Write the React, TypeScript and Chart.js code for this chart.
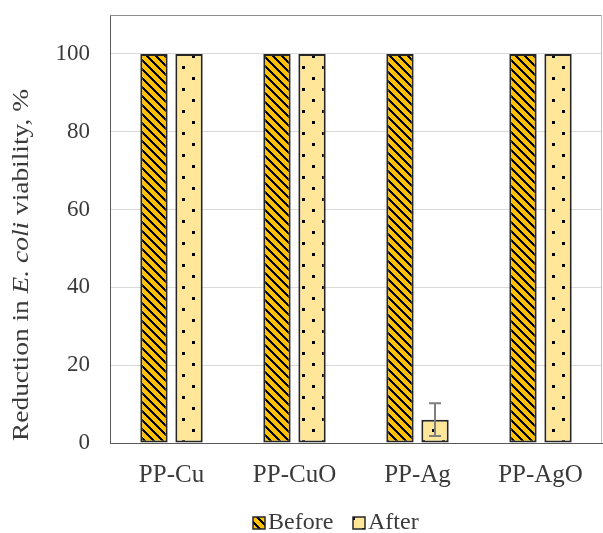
import React, { useEffect, useRef } from "react";
import { Chart, registerables } from "chart.js";

Chart.register(...registerables);

const categories = ["PP-Cu", "PP-CuO", "PP-Ag", "PP-AgO"];
const seriesNames = ["Before", "After"];
const beforeValues = [100, 100, 100, 100];
const afterValues = [100, 100, 6, 100];
const beforeErrors = [0, 0, 0, 0];
const afterErrors = [0, 0, 4.2, 0];
const yTickValues = [0, 20, 40, 60, 80, 100];
const yTitleParts = [
  { text: "Reduction in ", italic: false },
  { text: "E. coli", italic: true },
  { text: " viability, %", italic: false },
];

const FONT = "'Liberation Serif', 'DejaVu Serif', serif";
const TEXT_COLOR = "#3a3a3a";

function makeStripePattern(ctx: CanvasRenderingContext2D) {
  const n = 9;
  const c = document.createElement("canvas");
  c.width = n;
  c.height = n;
  const g = c.getContext("2d")!;
  g.fillStyle = "#FFC000";
  g.fillRect(0, 0, n, n);
  g.fillStyle = "#000000";
  for (let y = 0; y < n; y++) {
    for (let k = 0; k < 3; k++) {
      const x = (y + k) % n;
      g.fillRect(x, y, 1, 1);
    }
  }
  return ctx.createPattern(c, "repeat")!;
}

function makeDotPattern(ctx: CanvasRenderingContext2D) {
  const c = document.createElement("canvas");
  c.width = 20;
  c.height = 22;
  const g = c.getContext("2d")!;
  g.fillStyle = "#FFE699";
  g.fillRect(0, 0, 20, 22);
  g.fillStyle = "#000000";
  g.fillRect(2, 0, 3, 3);
  g.fillRect(12, 11, 3, 3);
  return ctx.createPattern(c, "repeat")!;
}

export default function App() {
  const ref = useRef<HTMLCanvasElement | null>(null);

  useEffect(() => {
    const canvas = ref.current!;
    const ctx = canvas.getContext("2d")!;
    const stripe = makeStripePattern(ctx);
    const dots = makeDotPattern(ctx);
    const fills = [stripe, dots];
    const errors = [beforeErrors, afterErrors];

    const framePlugin = {
      id: "frame",
      beforeDatasetsDraw(chart: any) {
        const { ctx: c, chartArea: a } = chart;
        c.save();
        c.lineWidth = 1;
        c.strokeStyle = "#8c8c8c";
        c.beginPath();
        c.moveTo(a.left, a.top + 0.5);
        c.lineTo(a.right, a.top + 0.5);
        c.stroke();
        c.strokeStyle = "#bfbfbf";
        c.beginPath();
        c.moveTo(a.right - 0.5, a.top);
        c.lineTo(a.right - 0.5, a.bottom);
        c.stroke();
        c.restore();
      },
    };

    const errorPlugin = {
      id: "errbars",
      afterDatasetsDraw(chart: any) {
        const c = chart.ctx;
        const ys = chart.scales.y;
        chart.data.datasets.forEach((ds: any, di: number) => {
          const meta = chart.getDatasetMeta(di);
          meta.data.forEach((bar: any, i: number) => {
            const e = errors[di][i];
            if (!e) return;
            const v = ds.data[i];
            const yTop = ys.getPixelForValue(v + e);
            const yBot = ys.getPixelForValue(v - e);
            const x = Math.round(bar.x);
            c.save();
            c.strokeStyle = "#7f7f7f";
            c.lineWidth = 2;
            c.beginPath();
            c.moveTo(x, yTop);
            c.lineTo(x, yBot);
            c.moveTo(x - 6, yTop);
            c.lineTo(x + 6, yTop);
            c.moveTo(x - 6, yBot);
            c.lineTo(x + 6, yBot);
            c.stroke();
            c.restore();
          });
        });
      },
    };

    const textPlugin = {
      id: "texts",
      afterDraw(chart: any) {
        const c = chart.ctx;
        c.save();
        c.fillStyle = TEXT_COLOR;
        c.textBaseline = "middle";
        c.textAlign = "left";
        const fs = 23;
        const fontFor = (it: boolean) => `${it ? "italic " : ""}${fs}px ${FONT}`;
        let total = 0;
        const widths = yTitleParts.map((p) => {
          c.font = fontFor(p.italic);
          const w = c.measureText(p.text).width;
          total += w;
          return w;
        });
        const targetLen = 352;
        const sx = targetLen / total;
        c.translate(22, 265);
        c.rotate(-Math.PI / 2);
        c.scale(sx, 1);
        let x = -total / 2;
        yTitleParts.forEach((p, i) => {
          c.font = fontFor(p.italic);
          c.fillText(p.text, x, 0);
          x += widths[i];
        });
        c.restore();

        c.save();
        c.font = `24px ${FONT}`;
        c.textBaseline = "alphabetic";
        c.textAlign = "left";
        const sw = 12;
        const swatchX = [253, 353];
        const baseY = 529;
        seriesNames.forEach((n, i) => {
          const lx = swatchX[i];
          c.fillStyle = fills[i];
          c.fillRect(lx, baseY - sw, sw, sw);
          c.strokeStyle = "#262626";
          c.lineWidth = 1.5;
          c.strokeRect(lx, baseY - sw, sw, sw);
          c.fillStyle = TEXT_COLOR;
          c.fillText(n, lx + sw + 3, baseY);
        });
        c.restore();
      },
    };

    const chart = new Chart(canvas, {
      type: "bar",
      data: {
        labels: categories,
        datasets: [
          {
            label: seriesNames[0],
            data: beforeValues,
            backgroundColor: stripe,
            borderColor: "#262626",
            borderWidth: 2,
            borderSkipped: false,
            categoryPercentage: 0.57,
            barPercentage: 0.78,
          },
          {
            label: seriesNames[1],
            data: afterValues,
            backgroundColor: dots,
            borderColor: "#262626",
            borderWidth: 2,
            borderSkipped: false,
            categoryPercentage: 0.57,
            barPercentage: 0.78,
          },
        ],
      },
      options: {
        responsive: false,
        animation: false,
        layout: { padding: { top: 15, right: 1, left: 0, bottom: 0 } },
        plugins: {
          legend: { display: false },
          tooltip: { enabled: false },
          title: { display: false },
        },
        scales: {
          x: {
            grid: { display: false },
            border: { display: true, color: "#595959", width: 1 },
            ticks: {
              color: TEXT_COLOR,
              font: { family: FONT, size: 25 },
              padding: 9,
              maxRotation: 0,
            },
            afterFit(scale: any) {
              scale.height = 90;
              scale.paddingLeft = 0;
              scale.paddingRight = 0;
            },
          },
          y: {
            min: 0,
            max: 110,
            grid: { color: "#d9d9d9", lineWidth: 1, drawTicks: false },
            border: { display: true, color: "#595959", width: 1 },
            ticks: {
              color: TEXT_COLOR,
              font: { family: FONT, size: 23 },
              padding: 20,
              stepSize: 20,
            },
            afterBuildTicks(scale: any) {
              scale.ticks = yTickValues.map((v) => ({ value: v }));
            },
            afterFit(scale: any) {
              scale.width = 110;
              scale.paddingTop = 0;
              scale.paddingBottom = 0;
            },
          },
        },
      },
      plugins: [framePlugin, errorPlugin, textPlugin],
    } as any);

    return () => chart.destroy();
  }, []);

  return (
    <div style={{ position: "fixed", left: 0, top: 0, width: 603, height: 533, background: "#fff" }}>
      <canvas ref={ref} width={603} height={533} style={{ display: "block", width: 603, height: 533 }} />
    </div>
  );
}
